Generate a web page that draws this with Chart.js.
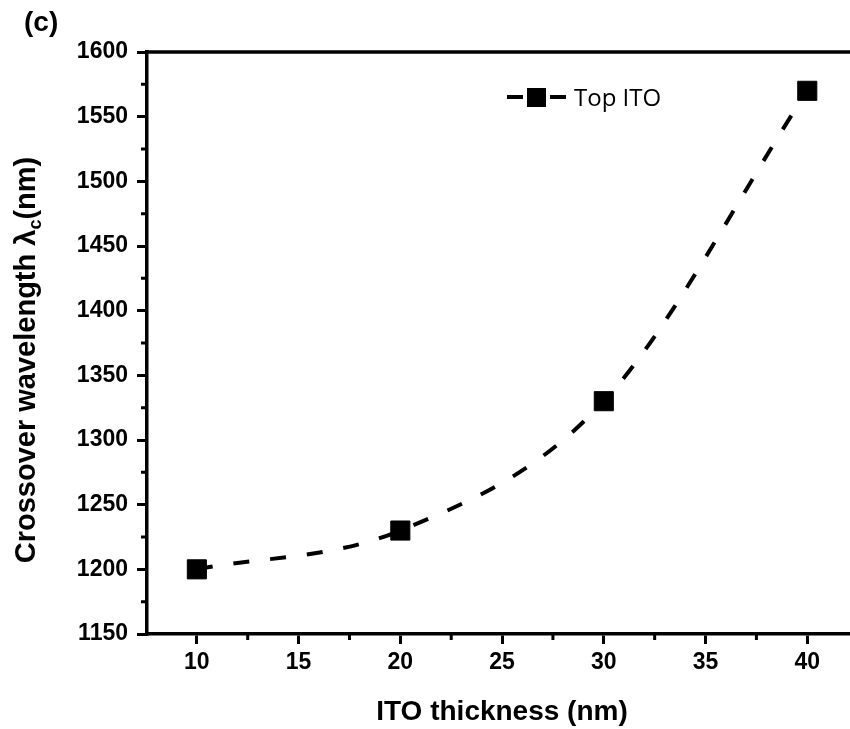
<!DOCTYPE html>
<html>
<head>
<meta charset="utf-8">
<script src="https://cdn.jsdelivr.net/npm/chart.js@4.4.0/dist/chart.umd.min.js"></script>
<style>
body{margin:0;background:#fff;}
</style>
</head>
<body>
<canvas id="myChart" width="850" height="729"></canvas>
<script>
const thickness=[10,20,30,40]
const crossover=[1200,1230,1330,1570]
const xTicks=[10,15,20,25,30,35,40]
const xMinor=[12.5,17.5,22.5,27.5,32.5,37.5]
const yMinor=[1175,1225,1275,1325,1375,1425,1475,1525,1575]
const seriesName="Top ITO"

var ctx=document.getElementById('myChart').getContext('2d');

// extra drawing: top frame line, minor ticks, titles, legend
const extras={
	id:'extras',
	afterDraw(chart){
		const c=chart.ctx
		const area=chart.chartArea
		const xs=chart.scales.x
		const ys=chart.scales.y
		c.save()
		c.strokeStyle='#000'
		c.lineWidth=3.5
		c.beginPath()
		c.moveTo(area.left-1.5,area.top)
		c.lineTo(area.right,area.top)
		c.stroke()

		c.lineWidth=3
		c.beginPath()
		xMinor.forEach(v=>{
			let px=xs.getPixelForValue(v)
			c.moveTo(px,area.bottom)
			c.lineTo(px,area.bottom+6)
		})
		yMinor.forEach(v=>{
			let py=ys.getPixelForValue(v)
			c.moveTo(area.left,py)
			c.lineTo(area.left-6,py)
		})
		c.stroke()

		c.fillStyle='#000'
		c.font='bold 28px "Liberation Sans", Arial, sans-serif'
		c.textBaseline='alphabetic'
		c.textAlign='left'
		c.fillText('(c)',24,31)

		// x title
		c.font='bold 28px "Liberation Sans", Arial, sans-serif'
		c.textAlign='center'
		c.fillText('ITO thickness (nm)',502,720)

		// y title with subscript
		c.save()
		c.translate(35,360)
		c.rotate(-Math.PI/2)
		c.textAlign='left'
		const big='bold 29px "Liberation Sans", Arial, sans-serif'
		const small='bold 18px "Liberation Sans", Arial, sans-serif'
		const p1='Crossover wavelength λ'
		const p2='c'
		const p3='(nm)'
		c.font=big
		let w1=c.measureText(p1).width
		let w3=c.measureText(p3).width
		c.font=small
		let w2=c.measureText(p2).width
		let x0=-(w1+w2+w3)/2
		c.font=big
		c.fillText(p1,x0,0)
		c.font=small
		c.fillText(p2,x0+w1,6)
		c.font=big
		c.fillText(p3,x0+w1+w2,0)
		c.restore()

		// legend
		c.lineWidth=4
		c.beginPath()
		c.moveTo(507,97)
		c.lineTo(523,97)
		c.moveTo(550,97)
		c.lineTo(566,97)
		c.stroke()
		c.fillRect(527,88,19,19)
		c.font='24px "Open Sans", sans-serif'
		c.textAlign='left'
		c.fillText(seriesName,574,106)
		c.restore()
	}
}

let myChart=new Chart(ctx,{
	type:'line',
	data:{
		datasets:[
		{
			label:seriesName,
			data:thickness.map((t,i)=>({x:t,y:crossover[i]})),
			borderColor:'#000',
			backgroundColor:'#000',
			borderWidth:4,
			borderDash:[16,21],
			cubicInterpolationMode:'monotone',
			pointStyle:'rect',
			pointRadius:13.5,
			pointBorderWidth:1,
			pointBackgroundColor:'#000',
			pointBorderColor:'#000',
			fill:false,
		}
		]
	},
	options:{
		responsive:false,
		animation:false,
		layout:{autoPadding:false,padding:{top:52,right:0,left:0,bottom:0}},
		plugins:{legend:{display:false},tooltip:{enabled:false}},
		scales:{
			x:{
				type:'linear',
				min:7.55,
				max:42.1,
				afterBuildTicks:(s)=>{s.ticks=xTicks.map(v=>({value:v}))},
				afterFit:(s)=>{s.height=95},
				grid:{drawOnChartArea:false,drawTicks:true,tickLength:10,lineWidth:3,color:'#000'},
				border:{display:true,width:3.5,color:'#000'},
				ticks:{color:'#000',padding:5,maxRotation:0,font:{family:'"Liberation Sans", Arial, sans-serif',size:23,weight:'bold'}}
			},
			y:{
				min:1150,
				max:1600,
				ticks:{stepSize:50,color:'#000',padding:9,callback:(v)=>String(v),font:{family:'"Liberation Sans", Arial, sans-serif',size:23,weight:'bold'}},
				afterFit:(s)=>{s.width=147},
				grid:{drawOnChartArea:false,drawTicks:true,tickLength:10,lineWidth:3,color:'#000'},
				border:{display:true,width:3.5,color:'#000'}
			}
		}
	},
	plugins:[extras]
})
</script>
</body>
</html>
